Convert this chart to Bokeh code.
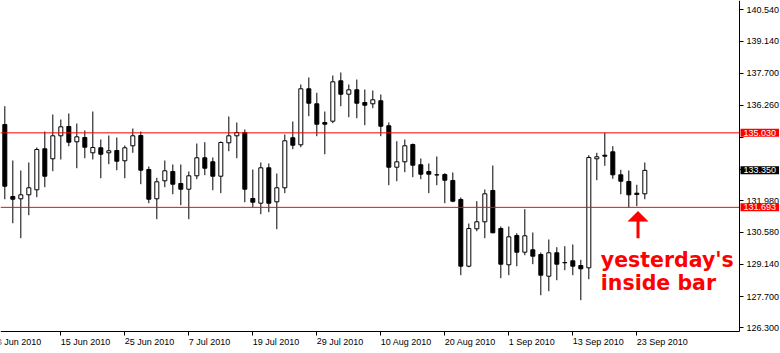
import pandas as pd
from bokeh.plotting import figure
from bokeh.models import (Range1d, LinearAxis, FixedTicker, Label,
                          ColumnDataSource, NumeralTickFormatter)
from bokeh.embed import file_html
from bokeh.resources import INLINE

# ---------------- data ----------------
dates = pd.bdate_range("2010-06-04", "2010-09-24")   # 81 daily bars

opens = [135.403, 132.179, 132.076, 132.255, 132.479, 134.315, 133.867, 134.897, 135.314, 134.629,
         134.821, 134.136, 134.360, 134.136, 134.239, 133.778, 134.450, 134.911, 133.388, 132.076,
         132.882, 133.299, 132.761, 132.506, 133.106, 133.912, 133.733, 133.088, 134.584, 134.897,
         135.045, 132.090, 131.879, 133.464, 131.942, 132.569, 134.808, 134.494, 137.002, 136.330,
         135.493, 135.551, 137.360, 136.760, 136.957, 136.388, 136.330, 136.465, 135.345, 133.491,
         133.733, 134.508, 133.599, 133.299, 133.142, 133.164, 132.896, 132.045, 129.058, 130.733,
         131.046, 132.448, 130.746, 129.121, 130.433, 129.685, 129.792, 129.582, 128.610, 129.658,
         129.210, 129.300, 129.089, 128.986, 133.867, 134.029, 134.181, 133.151, 132.851, 132.327,
         132.300]
highs = [136.223, 133.791, 133.343, 133.702, 134.373, 135.090, 135.851, 135.627, 135.896, 135.448,
         135.135, 135.985, 134.732, 134.911, 134.821, 134.463, 135.224, 135.090, 133.523, 133.017,
         133.791, 133.612, 133.612, 133.299, 134.552, 134.611, 133.926, 134.642, 135.762, 135.493,
         135.179, 133.388, 133.702, 133.657, 133.209, 134.955, 135.538, 137.194, 137.508, 136.823,
         135.985, 137.597, 137.732, 137.194, 137.418, 136.971, 136.926, 136.747, 135.493, 134.655,
         134.732, 134.552, 133.881, 133.657, 133.970, 133.223, 133.254, 132.134, 130.970, 131.969,
         132.493, 133.567, 130.836, 130.836, 130.536, 131.610, 130.567, 129.671, 130.254, 129.909,
         129.954, 130.030, 129.344, 134.029, 134.136, 135.030, 134.432, 133.375, 133.343, 132.703,
         133.702]
lows = [132.058, 130.983, 130.312, 131.342, 132.148, 132.596, 133.312, 133.836, 134.432, 133.446,
        133.894, 133.836, 132.999, 133.626, 133.357, 132.999, 134.136, 132.730, 131.879, 131.163,
        132.596, 132.282, 131.790, 131.163, 132.954, 133.133, 132.461, 132.327, 134.208, 133.894,
        131.924, 131.700, 131.387, 131.476, 130.715, 132.327, 134.297, 134.387, 135.775, 134.879,
        134.073, 135.462, 136.223, 135.730, 135.685, 135.372, 136.133, 134.879, 132.685, 132.864,
        133.267, 133.043, 132.954, 132.327, 132.685, 131.879, 131.924, 128.655, 129.013, 130.625,
        130.312, 130.536, 128.521, 128.655, 129.058, 129.551, 129.148, 127.759, 127.939, 128.431,
        128.879, 128.655, 127.535, 128.476, 132.909, 133.554, 132.972, 132.282, 131.693, 131.745,
        132.058]
closes = [132.640, 132.058, 132.255, 132.569, 134.284, 133.088, 134.897, 135.300, 134.611, 134.852,
          134.387, 134.373, 134.073, 134.226, 133.760, 134.360, 134.897, 133.357, 132.058, 132.838,
          133.330, 132.730, 132.506, 133.106, 133.912, 133.446, 133.088, 134.597, 134.897, 135.045,
          132.506, 131.924, 133.464, 131.879, 132.569, 134.673, 134.476, 137.002, 136.357, 135.417,
          135.417, 137.315, 136.760, 136.957, 136.357, 136.268, 136.509, 135.327, 133.491, 133.733,
          134.450, 133.581, 133.178, 133.178, 133.155, 132.909, 131.969, 129.058, 130.746, 131.046,
          132.300, 130.554, 129.148, 130.374, 129.685, 130.419, 129.506, 128.655, 129.658, 129.148,
          129.224, 129.058, 128.941, 133.926, 133.957, 133.984, 133.151, 132.864, 132.255, 132.269,
          133.350]

tick_dates = ["2010-06-15", "2010-06-25", "2010-07-07", "2010-07-19", "2010-07-29",
              "2010-08-10", "2010-08-20", "2010-09-01", "2010-09-13", "2010-09-23"]
first_label_date = "2010-06-03"          # bar just before the first visible one
price_ticks = [140.54, 139.14, 137.70, 136.26, 134.82, 133.40, 131.98, 130.58, 129.14, 127.70, 126.30]
hidden_price_ticks = [134.82, 133.40]    # covered by the price boxes
resistance = 135.030
support = 131.693
last_price = closes[-1]
inside_bar = 79
note_lines = ["yesterday's", "inside bar"]

# ---------------- layout ----------------
W, H = 780, 353
AXIS_X_PX, AXIS_Y_PX = 739, 331        # where the price / date axes sit
BAR_PX = 8.0
X0 = -0.54
X1 = X0 + W / BAR_PX
Y1 = 140.956
PPU = AXIS_Y_PX / (Y1 - 126.134)       # pixels per price unit
Y0 = Y1 - H / PPU
XA = X0 + AXIS_X_PX / BAR_PX           # data x of the price axis
YA = Y1 - AXIS_Y_PX / PPU              # data y of the date axis

AX_FONT = "Liberation Sans"
AX_SIZE = "9px"

p = figure(width=W, height=H, x_range=Range1d(X0, X1), y_range=Range1d(Y0, Y1),
           output_backend="svg", toolbar_location=None,
           x_axis_location=None, y_axis_location=None,
           min_border_left=0, min_border_top=0, min_border_right=0, min_border_bottom=0,
           background_fill_color="white", border_fill_color="white",
           outline_line_color=None)
p.grid.visible = False

# candles
idx = list(range(len(dates)))
src = ColumnDataSource(dict(
    x=idx, high=highs, low=lows,
    top=[max(o, c) for o, c in zip(opens, closes)],
    bottom=[min(o, c) for o, c in zip(opens, closes)],
    fill=["white" if c >= o else "black" for o, c in zip(opens, closes)],
))
p.segment(x0="x", y0="high", x1="x", y1="low", line_color="black", line_width=1, source=src)
p.vbar(x="x", width=0.5, top="top", bottom="bottom", fill_color="fill",
       line_color="black", line_width=1, source=src)

# horizontal levels (up to the price axis)
levels = [resistance, support]
p.segment(x0=[X0] * 2, x1=[XA] * 2, y0=levels, y1=levels, line_color="#ff0000", line_width=1)

# x axis (dates)
tick_idx = [int(dates.get_loc(pd.Timestamp(d))) for d in tick_dates]
labels = {i: f"{dates[i].day} {dates[i].strftime('%b %Y')}" for i in tick_idx}
xaxis = LinearAxis(ticker=FixedTicker(ticks=tick_idx), major_label_overrides=labels,
                   fixed_location=YA, bounds=(X0, XA))
# y axis (prices)
yaxis = LinearAxis(ticker=FixedTicker(ticks=price_ticks),
                   formatter=NumeralTickFormatter(format="0.000"),
                   major_label_overrides={v: "" for v in hidden_price_ticks},
                   fixed_location=XA, bounds=(YA, Y1))
for ax in (xaxis, yaxis):
    ax.axis_line_color = "black"
    ax.major_tick_line_color = "black"
    ax.major_tick_in = 0
    ax.major_tick_out = 4
    ax.minor_tick_line_color = None
    ax.major_label_text_font = AX_FONT
    ax.major_label_text_font_size = AX_SIZE
    ax.major_label_text_color = "black"
xaxis.major_label_standoff = 6
xaxis.major_label_orientation = -0.0001   # left-aligned labels at the tick
yaxis.major_label_standoff = 3
p.add_layout(xaxis, "below")
p.add_layout(yaxis, "right")

# cut-off first date label (its tick lies just left of the window)
fd = pd.Timestamp(first_label_date)
p.add_layout(Label(x=-1, y=YA, y_offset=-10, text=f"{fd.day} {fd.strftime('%b %Y')}",
                   text_font=AX_FONT, text_font_size=AX_SIZE, text_color="black",
                   text_align="left", text_baseline="middle"))

# price boxes on the axis
for val, bg in ((resistance, "#ff0000"), (last_price, "black"), (support, "#ff0000")):
    p.add_layout(Label(x=XA + 1.0 / BAR_PX, y=val, text=f"{val:.3f}",
                       text_font=AX_FONT, text_font_size=AX_SIZE, text_color="white",
                       text_align="left", text_baseline="middle",
                       background_fill_color=bg, border_line_color=None,
                       padding=dict(left=3, right=3, top=1, bottom=1)))

# arrow pointing at the inside bar
ax_c = inside_bar + 1.2 / BAR_PX
tip = support - 4 / PPU
base = tip - 10 / PPU
tail = base - 17 / PPU
p.patch(x=[ax_c - 10 / BAR_PX, ax_c + 10 / BAR_PX, ax_c], y=[base, base, tip],
        fill_color="#ff0000", line_color="#ff0000", line_width=0.5)
p.segment(x0=[ax_c], y0=[base + 0.5 / PPU], x1=[ax_c], y1=[tail], line_color="#ff0000", line_width=3)

# note text
for k, line in enumerate(note_lines):
    p.add_layout(Label(x=inside_bar, y=lows[inside_bar], x_offset=-36, y_offset=-54 - 22.7 * k,
                       text=line, text_font="DejaVu Sans", text_font_style="bold",
                       text_font_size="20.5px", text_color="#ff0000",
                       text_align="left", text_baseline="alphabetic"))

open("out.html", "w").write(file_html(p, INLINE))
